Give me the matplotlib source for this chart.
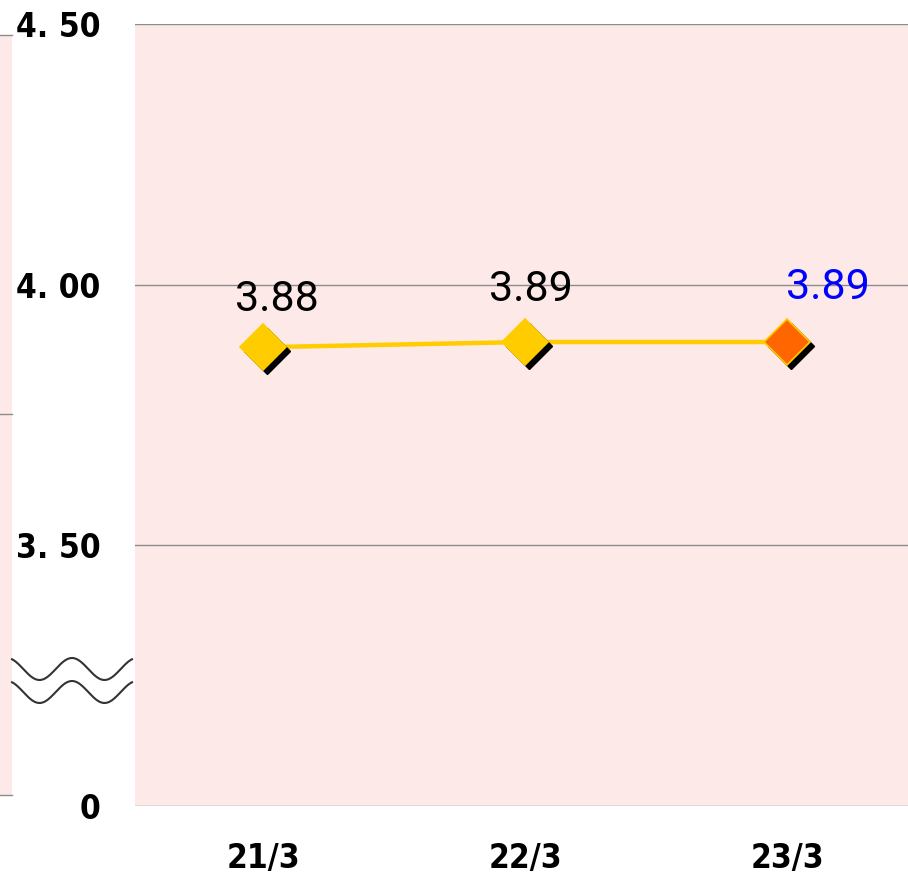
import numpy as np
import matplotlib
matplotlib.use("Agg")
import matplotlib.pyplot as plt
import matplotlib.transforms as mtransforms

# data
dates = ["21/3", "22/3", "23/3"]
values = [3.88, 3.89, 3.89]
value_labels = ["3.88", "3.89", "3.89"]
y_ticks = [3.0, 3.5, 4.0, 4.5]
y_tick_labels = ["0", "3. 50", "4. 00", "4. 50"]

PINK = "#FDE9E8"
YELLOW = "#FFCC00"
ORANGE = "#FF6600"
GRID = "#8C8C8C"

TICK_FONT = dict(family="DejaVu Sans", fontstretch="condensed", fontweight="bold", fontsize=24)

W, H = 908, 875
fig = plt.figure(figsize=(W / 100, H / 100), dpi=100)

# overlay in pixel coords for the left remnant strip and break mark
over = fig.add_axes([0, 0, 1, 1])
over.set_xlim(0, W)
over.set_ylim(H, 0)
over.axis("off")
over.fill_between([0, 12], 35, 795, color=PINK, lw=0)
for yy in [35, 414, 795]:
    over.plot([0, 12], [yy, yy], color=GRID, lw=1)
wx = np.linspace(12, 132, 200)
for yc in [669, 692]:
    over.plot(wx, yc - 11 * np.cos((wx - 72) / 65 * 2 * np.pi), color="#333333", lw=1.5)

ax = fig.add_axes([135 / W, (H - 806) / H, (W - 135) / W, 782 / H])
ax.set_facecolor(PINK)
ax.set_xlim(-0.488, 2.46)
ax.set_ylim(3.0, 4.5)
for s in ax.spines.values():
    s.set_visible(False)
for yv in y_ticks:
    ax.axhline(yv, color=GRID, lw=1, zorder=1)

x = np.arange(len(dates))
ax.plot(x, values, color=YELLOW, lw=3.2, zorder=3, solid_capstyle="butt")

shadow = mtransforms.offset_copy(ax.transData, fig=fig, x=4, y=-4, units="dots")
ax.plot(x, values, ls="none", marker="D", ms=23, color="black", transform=shadow, zorder=4)
colors = [YELLOW, YELLOW, ORANGE]
for xi, v, c in zip(x, values, colors):
    ax.plot([xi], [v], ls="none", marker="D", ms=23, mfc=c, mec=YELLOW, mew=1.2, zorder=5)

label_offsets = [(14, 48), (6, 53), (41, 55)]
label_colors = ["black", "black", "#0000FF"]
for xi, v, t, off, lc in zip(x, values, value_labels, label_offsets, label_colors):
    ax.annotate(t, (xi, v), xytext=off, textcoords="offset pixels", ha="center", va="center",
                fontsize=31, color=lc, family=["Roboto", "DejaVu Sans"], zorder=6)

ax.set_yticks(y_ticks)
ax.set_yticklabels(y_tick_labels, **TICK_FONT)
ax.set_xticks(x)
ax.set_xticklabels(dates, **TICK_FONT)
ax.tick_params(axis="both", length=0)
ax.tick_params(axis="y", pad=25)
ax.tick_params(axis="x", pad=26)

fig.savefig("out.png", dpi=100)
